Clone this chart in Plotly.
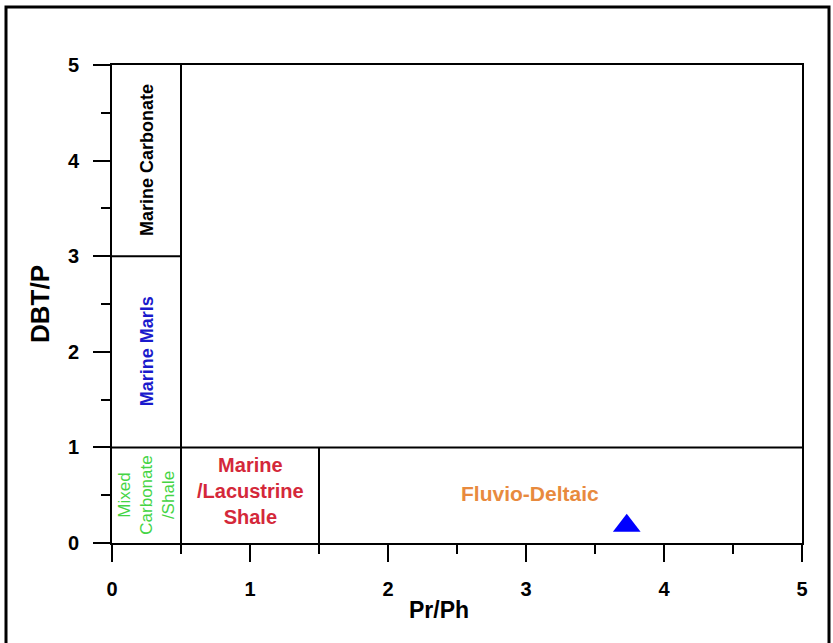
import plotly.graph_objects as go

# Data
sample_x = [3.73]
sample_y = [0.18]

x_ticks = [0, 1, 2, 3, 4, 5]
y_ticks = [0, 1, 2, 3, 4, 5]

# Region boundaries (data units): (x0, x1, y0, y1)
boundary_lines = [
    (0, 5, 1, 1),
    (0, 0.5, 3, 3),
    (0.5, 0.5, 0, 5),
    (1.5, 1.5, 0, 1),
]

region_labels = ["Marine Carbonate", "Marine Marls", "Mixed<br>Carbonate<br>/Shale",
                 "Marine<br>/Lacustrine<br>Shale", "Fluvio-Deltaic"]
label_x = [0.25, 0.25, 0.25, 1.0, 3.03]
label_y = [4.0, 2.0, 0.5, 0.54, 0.52]

FONT = "Liberation Sans, Arial, sans-serif"

fig = go.Figure()
fig.add_trace(go.Scatter(
    x=sample_x, y=sample_y, mode="markers",
    marker=dict(symbol="triangle-up", size=24, color="#0000ff", line=dict(width=0)),
    showlegend=False, hoverinfo="skip"))

for (x0, x1, y0, y1) in boundary_lines:
    fig.add_shape(type="line", x0=x0, x1=x1, y0=y0, y1=y1, xref="x", yref="y",
                  line=dict(color="black", width=2))

# outer frame of the picture
fig.add_shape(type="rect", xref="paper", yref="paper",
              x0=(6 - 112) / 690, x1=(829 - 112) / 690,
              y0=-0.4, y1=(543 - 7) / 478,
              line=dict(color="black", width=3))

styles = [
    dict(textangle=-90, font=dict(size=18, color="black", family=FONT, weight="bold")),
    dict(textangle=-90, font=dict(size=18, color="#1a1acc", family=FONT, weight="bold")),
    dict(textangle=-90, font=dict(size=17, color="#44d444", family=FONT)),
    dict(textangle=0, font=dict(size=20, color="#d4283a", family=FONT, weight="bold")),
    dict(textangle=0, font=dict(size=21, color="#e88a3e", family=FONT, weight="bold")),
]
for txt, lx, ly, st in zip(region_labels, label_x, label_y, styles):
    fig.add_annotation(x=lx, y=ly, xref="x", yref="y", text=txt, showarrow=False,
                       align="center", xanchor="center", yanchor="middle", **st)

# axis titles
fig.add_annotation(x=(439 - 112) / 690, y=(543 - 610) / 478, xref="paper", yref="paper",
                   text="Pr/Ph", showarrow=False, xanchor="center", yanchor="middle",
                   font=dict(size=23, color="black", family=FONT, weight="bold"))
fig.add_annotation(x=(40 - 112) / 690, y=(543 - 304) / 478, xref="paper", yref="paper",
                   text="DBT/P", showarrow=False, textangle=-90,
                   xanchor="center", yanchor="middle",
                   font=dict(size=26, color="black", family=FONT, weight="bold"))

axis_common = dict(
    range=[0, 5], showgrid=False, zeroline=False, showline=True, mirror=True,
    linecolor="black", linewidth=2, ticks="outside", ticklen=17, tickwidth=2,
    tickcolor="black", fixedrange=True,
    tickfont=dict(size=20, color="black", family=FONT, weight="bold"),
    minor=dict(ticks="outside", ticklen=9, tickwidth=2, tickcolor="black", dtick=0.5),
)

fig.update_xaxes(tickvals=x_ticks, ticklabelstandoff=10, **axis_common)
fig.update_yaxes(tickvals=y_ticks, ticklabelstandoff=10, **axis_common)

fig.update_layout(
    width=833, height=643,
    margin=dict(l=112, r=31, t=65, b=100),
    paper_bgcolor="white", plot_bgcolor="white",
    showlegend=False,
)

fig.write_html("out.html")
